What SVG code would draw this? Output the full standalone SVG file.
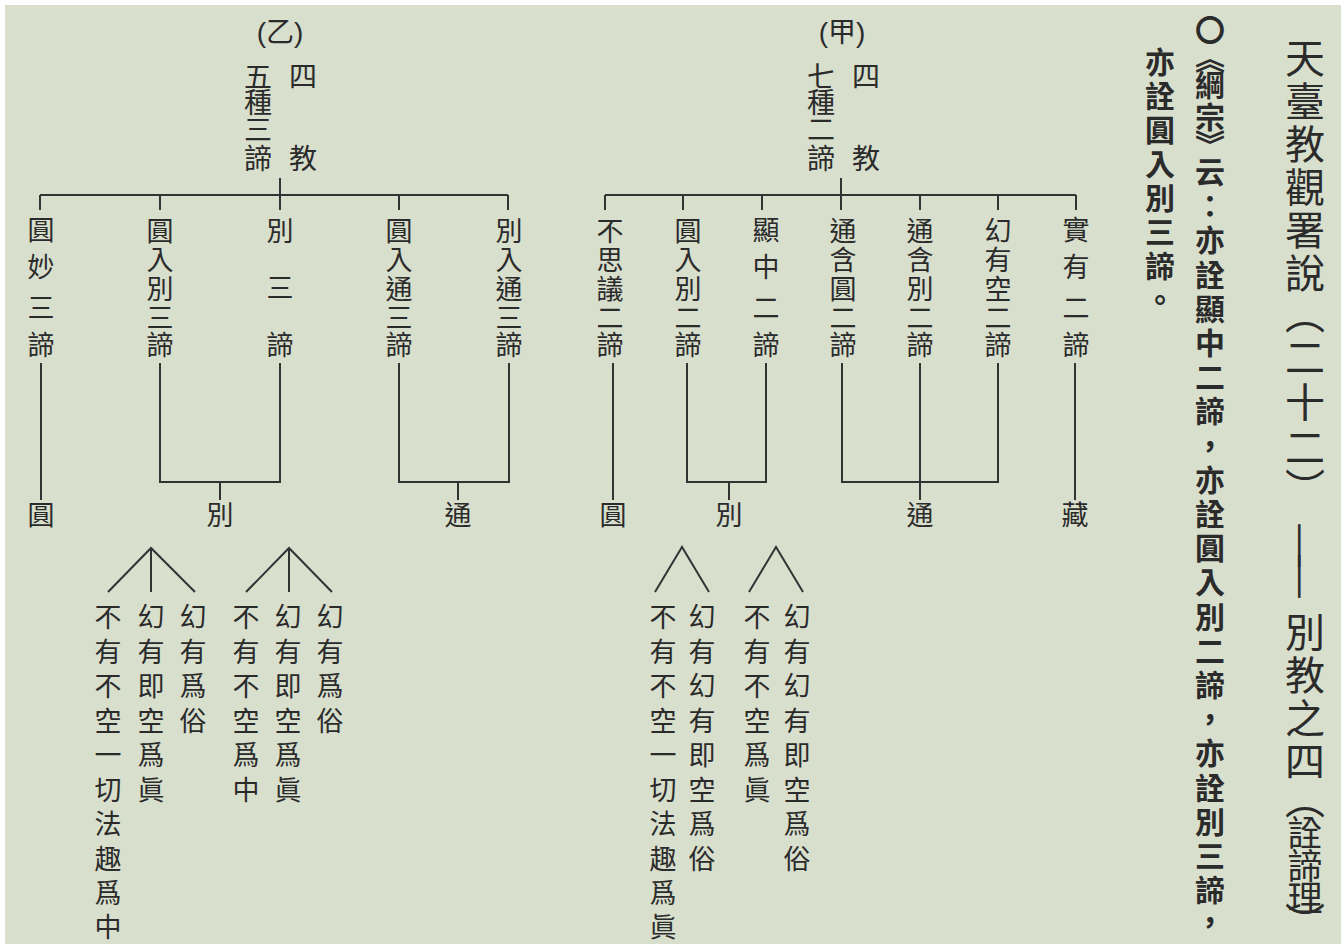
<svg xmlns="http://www.w3.org/2000/svg" width="1341" height="944" viewBox="0 0 1341 944">
<style>
.v{font-family:"Noto Sans CJK TC","Noto Sans CJK SC",sans-serif;fill:#2b2b2b;writing-mode:vertical-rl;text-anchor:middle;font-size:27px}
.h{font-family:"Liberation Sans","Noto Sans CJK TC",sans-serif;fill:#2b2b2b;text-anchor:middle;font-size:27px;dominant-baseline:central}
.title{font-size:40px}
.head{font-size:28px}
.note{font-weight:bold;font-size:30px}
.ln{stroke:#333;stroke-width:2;fill:none}
</style>
<rect x="0" y="0" width="1341" height="944" fill="#ffffff"/>
<rect x="5" y="5" width="1336" height="939" fill="#d8dfcd"/>

<g id="title">
<text class="v title" x="1305" y="58 101 144 187 230 273 314 357 402 447 488">天臺教觀署說（二十二）</text>
<text class="v title" transform="translate(1305 561) scale(1 1.34)" x="0" y="-11.5 11.5">——</text>
<text class="v title" x="1305" y="632 675 718 761 799 833 866 898 922">別教之四（<tspan style="font-size:35px">詮諦理</tspan>）</text>
</g>

<g id="note">
<text class="v note" x="1210" y="30 58 85 117 145 172 206 240 275 309 343 377 411 446 480 514 548 582 617 651 685 719 753 788 822 856 890 922">〇《綱宗》云：亦詮顯中二諦，亦詮圓入別二諦，亦詮別三諦，</text>
<text class="v note" x="1160" y="62 96 130 164 198 232 266 300">亦詮圓入別三諦。</text>
</g>

<g id="jia-head">
<text class="h head" x="842" y="32">(甲)</text>
<text class="v head" x="866" y="76 158">四教</text>
<text class="v head" x="821" y="76 102 129 158">七種二諦</text>
</g>
<g id="jia-1"><text class="v" x="610" y="231 260 289 318 345">不思議二諦</text></g>
<g id="jia-2"><text class="v" x="688" y="231 260 289 318 345">圓入別二諦</text></g>
<g id="jia-3"><text class="v" x="766" y="230 267 308 345">顯中二諦</text></g>
<g id="jia-4"><text class="v" x="843" y="231 260 289 318 345">通含圓二諦</text></g>
<g id="jia-5"><text class="v" x="920" y="231 260 289 318 345">通含別二諦</text></g>
<g id="jia-6"><text class="v" x="998" y="231 260 289 318 345">幻有空二諦</text></g>
<g id="jia-7"><text class="v" x="1076" y="230 267 308 345">實有二諦</text></g>
<g id="jia-yuan"><text class="v" x="613" y="515">圓</text></g>
<g id="jia-bie"><text class="v" x="729" y="515">別</text></g>
<g id="jia-tong"><text class="v" x="920" y="515">通</text></g>
<g id="jia-zang"><text class="v" x="1075" y="515">藏</text></g>

<g id="yi-head">
<text class="h head" x="280" y="32">(乙)</text>
<text class="v head" x="303" y="76 158">四教</text>
<text class="v head" x="258" y="76 102 129 158">五種三諦</text>
</g>
<g id="yi-1"><text class="v" x="41" y="230 267 308 345">圓妙三諦</text></g>
<g id="yi-2"><text class="v" x="160" y="231 260 289 318 345">圓入別三諦</text></g>
<g id="yi-3"><text class="v" x="280" y="231 288 345">別三諦</text></g>
<g id="yi-4"><text class="v" x="399" y="231 260 289 318 345">圓入通三諦</text></g>
<g id="yi-5"><text class="v" x="509" y="231 260 289 318 345">別入通三諦</text></g>
<g id="yi-yuan"><text class="v" x="41" y="515">圓</text></g>
<g id="yi-bie"><text class="v" x="220" y="515">別</text></g>
<g id="yi-tong"><text class="v" x="458" y="515">通</text></g>

<g id="yi-bie-a1"><text class="v" x="108" y="617 651.5 686 720.5 755 789.5 824 858.5 893 927">不有不空一切法趣爲中</text></g>
<g id="yi-bie-a2"><text class="v" x="151" y="617 651.5 686 720.5 755 789.5">幻有即空爲眞</text></g>
<g id="yi-bie-a3"><text class="v" x="193" y="617 651.5 686 720.5">幻有爲俗</text></g>
<g id="yi-bie-b1"><text class="v" x="246" y="617 651.5 686 720.5 755 789.5">不有不空爲中</text></g>
<g id="yi-bie-b2"><text class="v" x="288" y="617 651.5 686 720.5 755 789.5">幻有即空爲眞</text></g>
<g id="yi-bie-b3"><text class="v" x="330" y="617 651.5 686 720.5">幻有爲俗</text></g>

<g id="jia-bie-a1"><text class="v" x="663" y="617 651.5 686 720.5 755 789.5 824 858.5 893 927">不有不空一切法趣爲眞</text></g>
<g id="jia-bie-a2"><text class="v" x="702" y="617 651.5 686 720.5 755 789.5 824 858.5">幻有幻有即空爲俗</text></g>
<g id="jia-bie-b1"><text class="v" x="757" y="617 651.5 686 720.5 755 789.5">不有不空爲眞</text></g>
<g id="jia-bie-b2"><text class="v" x="797" y="617 651.5 686 720.5 755 789.5 824 858.5">幻有幻有即空爲俗</text></g>

<g id="connectors" class="ln">
<path d="M841 178V195M605 195H1076M605 195V210M683 195V210M762 195V210M841 195V210M920 195V210M998 195V210M1076 195V210"/>
<path d="M613 363V500M687 363V482H766V363M729 482V500M842 363V482H998V363M920 363V500M1075 363V500"/>
<path d="M280 178V195M40 195H508M40 195V210M160 195V210M280 195V210M399 195V210M508 195V210"/>
<path d="M41 363V500M160 363V482H280V363M220 482V500M399 363V482H509V363M458 482V500"/>
<path d="M108 592L151 548L195 592M151 548V592M246 592L289 548L332 592M289 548V592"/>
<path d="M655 592L682 547L709 592M749 592L776 547L803 592"/>
</g>
</svg>
